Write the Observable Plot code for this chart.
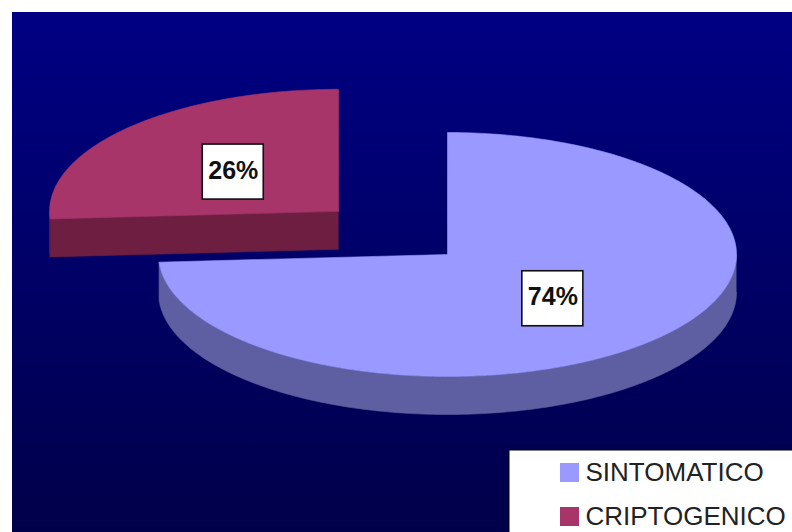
<!DOCTYPE html>
<html>
<head>
<meta charset="utf-8">
<script src="https://cdn.jsdelivr.net/npm/d3@7"></script>
<script src="https://cdn.jsdelivr.net/npm/@observablehq/plot@0.6"></script>
<style>
  body { margin: 0; background: #fff; }
  #chart svg { display: block; }
</style>
</head>
<body>
<div id="chart"></div>
<script>
// Series
const categories = ["SINTOMATICO", "CRIPTOGENICO"];
const shares = [74, 26];
const labels = ["74%", "26%"];
const exploded = [false, true];

// Styles
const topColors = ["#9999FF", "#A8356A"];
const sideColors = ["#5E5EA2", "#6E1E40"];

const W = 792, H = 532;
// Pie layout in pixels: centre, ellipse radii and extrusion depth
const cx = 447, cy = 254, rx = 289, ry = 122, depth = 38;
const explodeDist = 0.517; // offset of an exploded slice, fraction of radius
const labelDist = 0.5;     // label anchor along the slice mid-angle
const step = Math.PI / 180;

const total = d3.sum(shares);
let acc = 0;
const slices = shares.map((v, i) => {
  const a0 = acc / total * 2 * Math.PI;
  acc += v;
  const a1 = acc / total * 2 * Math.PI;
  const mid = (a0 + a1) / 2;
  const off = exploded[i] ? explodeDist : 0;
  const ox = cx + off * rx * Math.sin(mid);
  const oy = cy - off * ry * Math.cos(mid);
  return {
    i, name: categories[i], label: labels[i], a0, a1, mid, ox, oy,
    lx: ox + labelDist * rx * Math.sin(mid),
    ly: oy - labelDist * ry * Math.cos(mid)
  };
});

// Angles start at 12 o'clock and run clockwise
const rim = (s, a, dz = 0) => ({x: s.ox + rx * Math.sin(a), y: s.oy - ry * Math.cos(a) + dz});
const arc = (s, lo, hi, dz = 0) => {
  const pts = [];
  for (let a = lo; a < hi; a += step) pts.push(rim(s, a, dz));
  pts.push(rim(s, hi, dz));
  return pts;
};

// Faces of each slice, back slices first
const polygons = [];
slices.slice().sort((a, b) => a.oy - b.oy).forEach(s => {
  const c = {x: s.ox, y: s.oy}, cb = {x: s.ox, y: s.oy + depth};
  // cut faces turned toward the viewer
  if (Math.sin(s.a0) < -1e-6) {
    polygons.push({fill: sideColors[s.i], points: [c, rim(s, s.a0), rim(s, s.a0, depth), cb]});
  }
  if (Math.sin(s.a1) > 1e-6) {
    polygons.push({fill: sideColors[s.i], points: [c, rim(s, s.a1), rim(s, s.a1, depth), cb]});
  }
  // front part of the curved wall
  const lo = Math.max(s.a0, Math.PI / 2), hi = Math.min(s.a1, 3 * Math.PI / 2);
  if (hi > lo) {
    polygons.push({fill: sideColors[s.i], points: [...arc(s, lo, hi), ...arc(s, lo, hi, depth).reverse()]});
  }
  // top face
  polygons.push({fill: topColors[s.i], points: [c, ...arc(s, s.a0, s.a1), c]});
});

const legendRows = categories.map((name, row) => ({name, row, color: topColors[row]}));
const frame = [{x1: 12, x2: W, y1: 12, y2: H}];
const legendBox = [{x1: 509, x2: W + 2, y1: 450, y2: H + 2}];

const plot = Plot.plot({
  width: W, height: H, margin: 0,
  x: {domain: [0, W], axis: null},
  y: {domain: [H, 0], axis: null},
  style: {background: "#fff", overflow: "hidden"},
  marks: [
    Plot.rect(frame, {x1: "x1", x2: "x2", y1: "y1", y2: "y2", fill: "url(#bgGrad)"}),
    ...polygons.map(p => Plot.line(p.points, {x: "x", y: "y", fill: p.fill, stroke: p.fill, strokeWidth: 0.6})),
    Plot.rect(slices, {
      x1: d => d.lx - 30.5, x2: d => d.lx + 30.5,
      y1: d => d.ly - 25, y2: d => d.ly + 30,
      fill: "#fff", stroke: "#111", strokeWidth: 1.6
    }),
    Plot.text(slices, {
      x: "lx", y: d => d.ly + 1, text: "label",
      fontSize: 25, fontWeight: "bold", fontFamily: "Liberation Sans, Arial, sans-serif", fill: "#111"
    }),
    Plot.rect(legendBox, {x1: "x1", x2: "x2", y1: "y1", y2: "y2", fill: "#fff", stroke: "#000", strokeWidth: 1}),
    Plot.rect(legendRows, {
      x1: 560, x2: 579,
      y1: d => 463 + d.row * 44, y2: d => 482 + d.row * 44,
      fill: "color"
    }),
    Plot.text(legendRows, {
      x: 585, y: d => 472.5 + d.row * 44, text: "name", textAnchor: "start",
      fontSize: 26, fontFamily: "Liberation Sans, Arial, sans-serif", fill: "#222"
    })
  ],
  color: {type: "identity"}
});

d3.select(plot).insert("defs", ":first-child").html(
  `<linearGradient id="bgGrad" x1="0" y1="0" x2="0" y2="1">
     <stop offset="0" stop-color="#000084"/>
     <stop offset="1" stop-color="#00004a"/>
   </linearGradient>`
);

document.getElementById("chart").append(plot);
</script>
</body>
</html>
